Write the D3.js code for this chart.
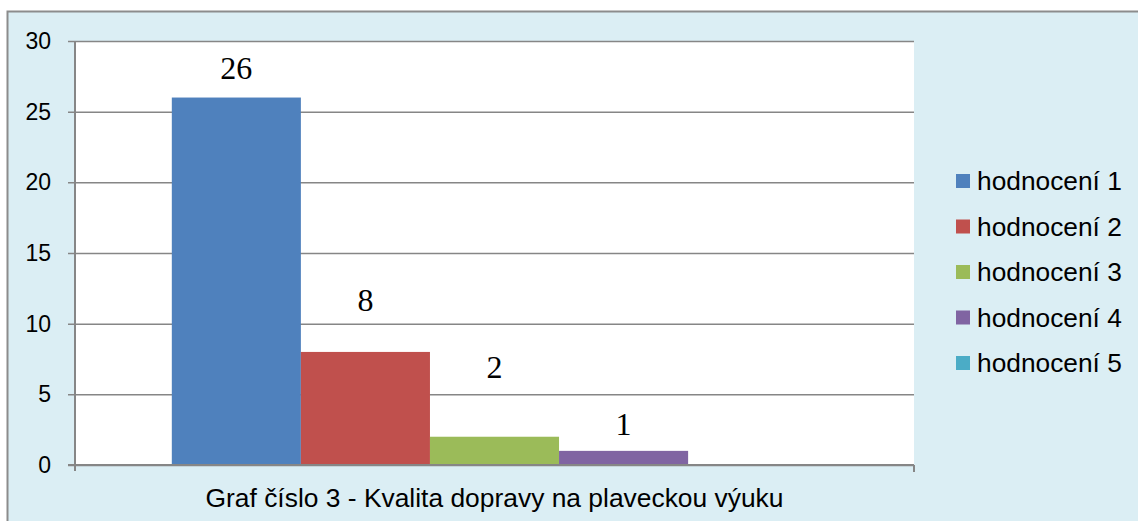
<!DOCTYPE html>
<meta charset="utf-8">
<style>
body { margin: 0; background: #ffffff; }
svg text { font-family: "Liberation Sans", Arial, sans-serif; fill: #000; }
.lbl { font-family: "Liberation Serif", "Times New Roman", serif; }
</style>
<svg width="1138" height="521"></svg>
<script src="https://d3js.org/d3.v7.min.js"></script>
<script>
// data
var series = ["hodnocení 1", "hodnocení 2", "hodnocení 3", "hodnocení 4", "hodnocení 5"];
var values = [26, 8, 2, 1, 0];
var colors = ["#4F81BD", "#C0504D", "#9BBB59", "#8064A2", "#4BACC6"];
var yTicks = [0, 5, 10, 15, 20, 25, 30];
// where Excel put the value labels (baseline, in data units)
var labelAt = [27.3, 10.9, 6.15, 2.1];
var title = "Graf číslo 3 - Kvalita dopravy na plaveckou výuku";

var svg = d3.select("svg"),
    margin = {top: 41, left: 75},
    width = 914 - 75,
    height = 465 - 41;

// chart background + border
svg.append("rect")
    .attr("x", 7.5).attr("y", 11.5)
    .attr("width", 1200).attr("height", 600)
    .attr("fill", "#DBEEF4")
    .attr("stroke", "#8C8C8C")
    .attr("stroke-width", 2);

var g = svg.append("g")
    .attr("transform", "translate(" + margin.left + "," + margin.top + ")");

g.append("rect").attr("width", width).attr("height", height).attr("fill", "#fff");

var y = d3.scaleLinear().domain([0, 30]).range([height, 0]);
var xOuter = d3.scaleBand().domain(["c"]).range([0, width]).paddingInner(0).paddingOuter(0.15);
var x = d3.scaleBand().domain(series).range([xOuter("c"), xOuter("c") + xOuter.bandwidth()]);

// grid + y axis
var yAxis = g.append("g")
    .call(d3.axisLeft(y).tickValues(yTicks).tickSize(-width - 7).tickPadding(24));
yAxis.selectAll(".tick line").attr("x1", width).attr("x2", -7)
    .attr("stroke", "#868686").attr("stroke-width", 1.5);
yAxis.select(".domain").remove();
yAxis.selectAll("text").style("font-size", "23px")
    .attr("font-family", "Liberation Sans, Arial, sans-serif");

g.append("line").attr("x1", 0).attr("x2", 0).attr("y1", 0).attr("y2", height + 6)
    .attr("stroke", "#868686").attr("stroke-width", 2);

// bars
g.selectAll(".bar").data(values).enter().append("rect")
    .attr("x", function(d, i) { return x(series[i]); })
    .attr("y", function(d) { return y(d); })
    .attr("width", x.bandwidth())
    .attr("height", function(d) { return height - y(d); })
    .attr("fill", function(d, i) { return colors[i]; });

// x axis
g.append("line").attr("x1", -7).attr("x2", width).attr("y1", height).attr("y2", height)
    .attr("stroke", "#868686").attr("stroke-width", 2);
g.append("line").attr("x1", width).attr("x2", width).attr("y1", height).attr("y2", height + 7)
    .attr("stroke", "#868686").attr("stroke-width", 2);

// value labels
g.selectAll(".lbl").data(labelAt).enter().append("text")
    .attr("class", "lbl")
    .attr("x", function(d, i) { return x(series[i]) + x.bandwidth() / 2; })
    .attr("y", function(d) { return y(d); })
    .attr("text-anchor", "middle")
    .style("font-size", "32px")
    .text(function(d, i) { return values[i]; });

// title under axis
svg.append("text")
    .attr("x", margin.left + width / 2)
    .attr("y", 507)
    .attr("text-anchor", "middle")
    .style("font-size", "26.4px")
    .text(title);

// legend
var leg = svg.append("g").attr("transform", "translate(956,0)");
var ly = d3.scalePoint().domain(series).range([181, 363]);
leg.selectAll("rect").data(series).enter().append("rect")
    .attr("x", 0).attr("y", function(d) { return ly(d) - 7; })
    .attr("width", 14).attr("height", 14)
    .attr("fill", function(d, i) { return colors[i]; });
leg.selectAll("text").data(series).enter().append("text")
    .attr("x", 21).attr("y", function(d) { return ly(d); })
    .attr("dy", "0.36em")
    .style("font-size", "26.3px")
    .text(function(d) { return d; });
</script>
